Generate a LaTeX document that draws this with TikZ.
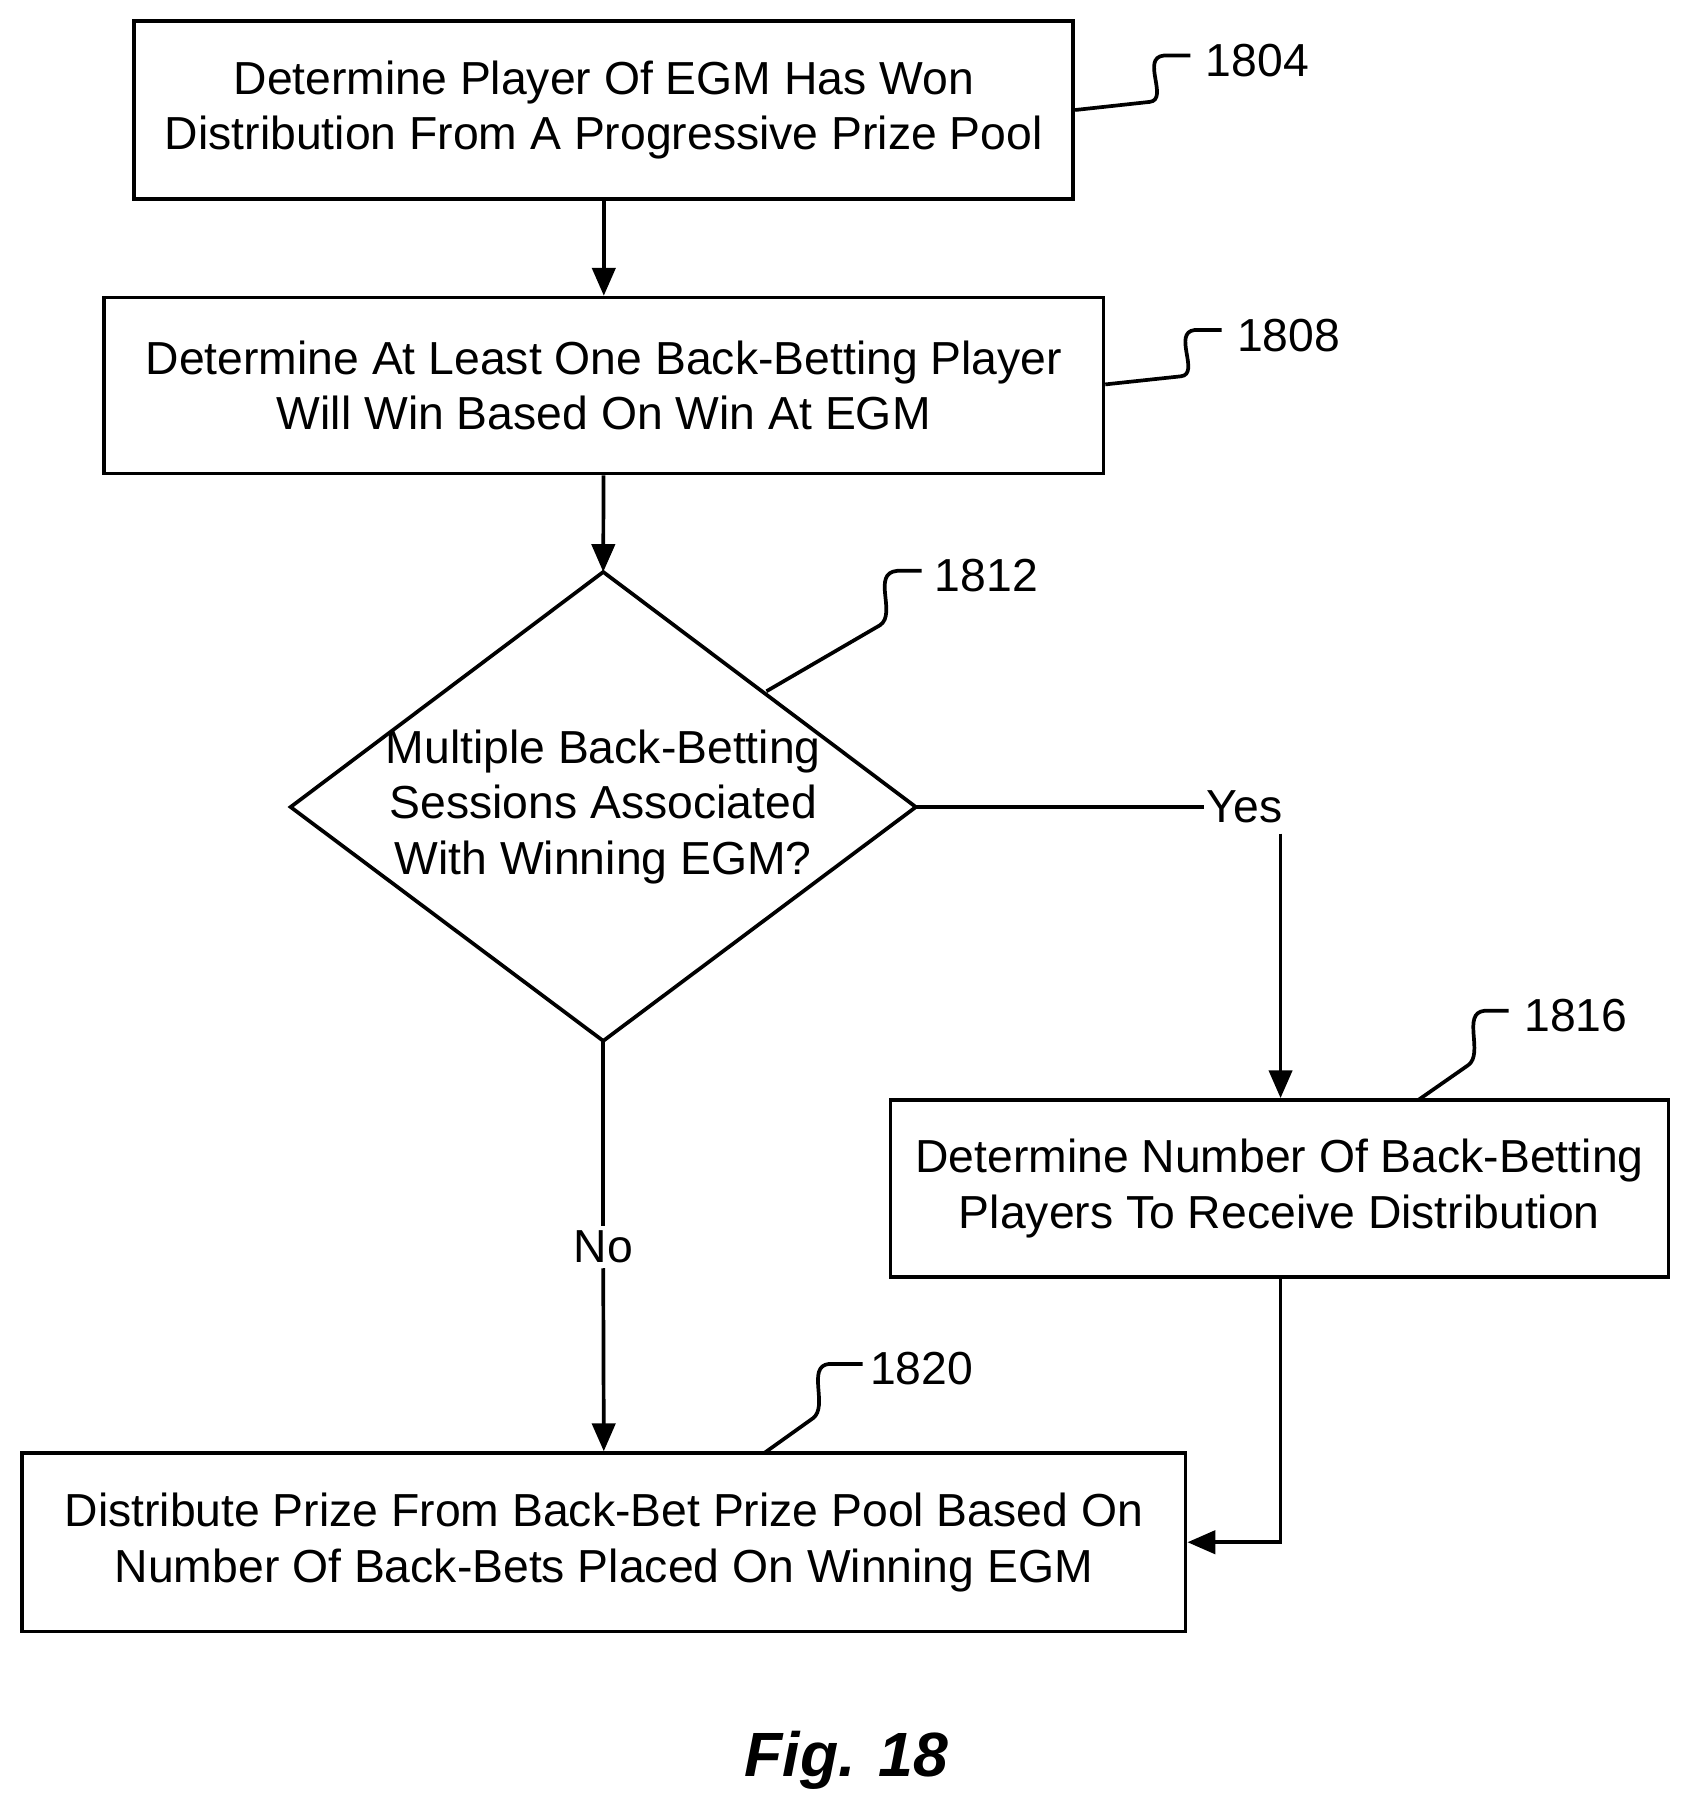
\documentclass[tikz,border=0pt]{standalone}
\usepackage{fontspec}
\setmainfont{Liberation Sans}
\usetikzlibrary{arrows.meta}
\begin{document}
\begin{tikzpicture}[x=0.5pt,y=-0.5pt,
  box/.style={draw,line width=1.6pt,inner sep=0pt,align=center,font=\fontsize{20}{24}\selectfont},
  ref/.style={font=\fontsize{20}{24}\selectfont},
  lead/.style={line width=1.6pt},
  arr/.style={line width=1.6pt,-{Stealth[length=12pt,width=10pt,inset=0pt]}}]
  \useasboundingbox (0,0) rectangle (1460,1565);
  \node[box,minimum width=405.5pt,minimum height=77pt] (b1) at (521.5,95) {Determine Player Of EGM Has Won\\Distribution From A Progressive Prize Pool};
  \node[box,minimum width=431.5pt,minimum height=76pt] (b2) at (521.5,333) {Determine At Least One Back-Betting Player\\Will Win Based On Win At EGM};
  \coordinate (dN) at (521,494);
  \coordinate (dE) at (791,697);
  \coordinate (dS) at (521,899);
  \coordinate (dW) at (251,697);
  \draw[line width=1.6pt,line join=miter] (dN) -- (dE) -- (dS) -- (dW) -- cycle;
  \node[align=center,font=\fontsize{20}{24}\selectfont] (dt) at (521,697) {Multiple Back-Betting\\Sessions Associated\\With Winning EGM?};
  \node[box,minimum width=336pt,minimum height=76.5pt] (b3) at (1105,1026.5) {Determine Number Of Back-Betting\\Players To Receive Distribution};
  \node[box,minimum width=502.5pt,minimum height=77pt] (b4) at (521.5,1332) {Distribute Prize From Back-Bet Prize Pool Based On\\Number Of Back-Bets Placed On Winning EGM};
  \node[ref,inner sep=1pt] (yes) at (1075,697) {Yes};
  \node[ref,fill=white,inner sep=2pt] (no) at (521,1077) {No};
  \node[ref] (r1804) at (1086,52) {1804};
  \node[ref] (r1808) at (1113,290) {1808};
  \node[ref] (r1812) at (852,497) {1812};
  \node[ref] (r1816) at (1361,877) {1816};
  \node[ref] (r1820) at (796,1182) {1820};
  \node[font=\bfseries\itshape\fontsize{27}{30}\selectfont] (fig) at (731,1520) {Fig. 18};
  % connectors
  \draw[arr] (b1) -- (b2);
  \draw[arr] (b2) -- (dN);
  \draw[lead] (dE) -- (yes.west);
  \draw[arr] (1106,720) -- (b3.north -| 1106,0);
  \draw[lead] (dS) -- (no.north);
  \draw[arr] (no.south) -- (b4.north);
  \draw[arr] (b3.south -| 1106,0) -- (1106,1332) -- (b4.east);
  % leaders
  \draw[lead] (b1.east |- 0,95) -- (993,88) .. controls (1010,86) and (985,50) .. (1005,48) -- (1028,48);
  \draw[lead] (b2.east |- 0,332) -- (1020,325) .. controls (1037,323) and (1012,287) .. (1032,285) -- (1055,285);
  \draw[lead] (662,597) -- (760,540) .. controls (775,530) and (752,495) .. (775,493) -- (796,493);
  \draw[lead] (1225,950) -- (1268,920) .. controls (1282,910) and (1262,875) .. (1282,873) -- (1303,873);
  \draw[lead] (660,1255) -- (702,1225) .. controls (716,1215) and (696,1180) .. (716,1178) -- (745,1178);
\end{tikzpicture}
\end{document}
